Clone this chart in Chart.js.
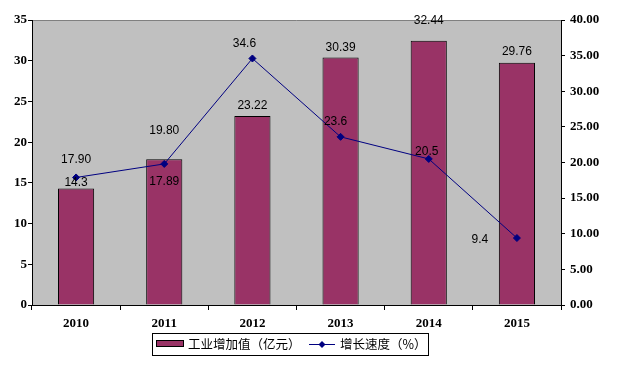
<!DOCTYPE html>
<html>
<head>
<meta charset="utf-8">
<script src="https://cdn.jsdelivr.net/npm/chart.js@4"></script>
<style>
  body { margin: 0; background: #fff; }
  #wrap { width: 618px; height: 369px; }
</style>
</head>
<body>
<div id="wrap"><canvas id="myChart" width="618" height="369"></canvas></div>
<script>
const years = ["2010", "2011", "2012", "2013", "2014", "2015"];
const addedValue = [14.3, 17.89, 23.22, 30.39, 32.44, 29.76];
const addedLabels = ["14.3", "17.89", "23.22", "30.39", "32.44", "29.76"];
const growthRate = [17.9, 19.8, 34.6, 23.6, 20.5, 9.4];
const growthLabels = ["17.90", "19.80", "34.6", "23.6", "20.5", "9.4"];

// label nudges (dx, dy) from the top of each mark
const barLabelShift = [[0, -6], [0, 22], [0, -10], [0, -10], [0, -20], [0, -11]];
const lineLabelShift = [[0, -18], [0, -33], [-8, -15], [-5, -15], [-2, -7], [-37, 2]];

const tickFont = { family: "Liberation Serif", size: 13, weight: "bold" };

const plotBg = {
  id: "plotBg",
  beforeDraw(chart) {
    const { ctx, chartArea: a } = chart;
    ctx.save();
    ctx.fillStyle = "#C0C0C0";
    ctx.fillRect(a.left, a.top, a.right - a.left, a.bottom - a.top);
    ctx.strokeStyle = "#808080";
    ctx.lineWidth = 1;
    ctx.beginPath();
    ctx.moveTo(a.left, Math.round(a.top) + 0.5);
    ctx.lineTo(a.right, Math.round(a.top) + 0.5);
    ctx.stroke();
    ctx.restore();
  }
};

const valueLabels = {
  id: "valueLabels",
  afterDatasetsDraw(chart) {
    const ctx = chart.ctx;
    ctx.save();
    ctx.font = "12px 'Liberation Sans', Arial, sans-serif";
    ctx.fillStyle = "#000";
    ctx.textAlign = "center";
    ctx.textBaseline = "middle";
    chart.getDatasetMeta(1).data.forEach((el, i) => {
      ctx.fillText(addedLabels[i], el.x + barLabelShift[i][0], el.y + barLabelShift[i][1]);
    });
    chart.getDatasetMeta(0).data.forEach((el, i) => {
      ctx.fillText(growthLabels[i], el.x + lineLabelShift[i][0], el.y + lineLabelShift[i][1]);
    });
    ctx.restore();
  }
};

const boxLegend = {
  id: "boxLegend",
  afterDraw(chart) {
    const ctx = chart.ctx;
    ctx.save();
    ctx.strokeStyle = "#000";
    ctx.lineWidth = 1;
    ctx.strokeRect(152.5, 333.5, 276, 22);
    // bar swatch
    ctx.fillStyle = "#993366";
    ctx.fillRect(156.5, 340.5, 27, 6);
    ctx.strokeRect(156.5, 340.5, 27, 6);
    // line swatch
    ctx.strokeStyle = "#000080";
    ctx.beginPath();
    ctx.moveTo(309, 344.5);
    ctx.lineTo(335, 344.5);
    ctx.stroke();
    ctx.fillStyle = "#000080";
    ctx.beginPath();
    ctx.moveTo(322, 341);
    ctx.lineTo(325.5, 344.5);
    ctx.lineTo(322, 348);
    ctx.lineTo(318.5, 344.5);
    ctx.closePath();
    ctx.fill();
    ctx.fillStyle = "#000";
    ctx.font = "12.5px 'Noto Sans CJK SC', sans-serif";
    ctx.textBaseline = "middle";
    ctx.textAlign = "left";
    ctx.fillText("工业增加值（亿元）", 188, 344.5);
    ctx.fillText("增长速度（%）", 340, 344.5);
    ctx.restore();
  }
};

const ctx = document.getElementById("myChart");

const data = {
  labels: years,
  datasets: [
    {
      type: "line",
      label: "增长速度（%）",
      data: growthRate,
      yAxisID: "y1",
      borderColor: "#000080",
      borderWidth: 1,
      backgroundColor: "#000080",
      pointStyle: "rectRot",
      pointRadius: 3.5,
      pointBorderWidth: 1,
      tension: 0,
      order: 0
    },
    {
      type: "bar",
      label: "工业增加值（亿元）",
      data: addedValue,
      yAxisID: "y",
      backgroundColor: "#993366",
      borderColor: "#000",
      borderWidth: 1,
      categoryPercentage: 1,
      barPercentage: 0.41,
      order: 1
    }
  ]
};

const config = {
  data: data,
  options: {
    responsive: false,
    animation: false,
    layout: { padding: { top: 20, bottom: 36, left: 0, right: 0 } },
    plugins: {
      legend: { display: false },
      tooltip: { enabled: false }
    },
    scales: {
      x: {
        grid: { offset: true, drawOnChartArea: false, tickLength: 5, color: "#000" },
        border: { color: "#000" },
        ticks: { color: "#000", font: tickFont, padding: 6, maxRotation: 0 },
        afterFit(scale) { scale.height = 28; }
      },
      y: {
        position: "left",
        min: 0,
        max: 35,
        grid: { drawOnChartArea: false, tickLength: 4, color: "#000" },
        border: { color: "#000" },
        ticks: { stepSize: 5, color: "#000", font: tickFont, padding: 1 },
        afterFit(scale) { scale.width = 32; }
      },
      y1: {
        position: "right",
        min: 0,
        max: 40,
        grid: { drawOnChartArea: false, tickLength: 4, color: "#000" },
        border: { color: "#000" },
        ticks: {
          stepSize: 5,
          color: "#000",
          font: tickFont,
          padding: 5,
          callback: (v) => Number(v).toFixed(2)
        },
        afterFit(scale) { scale.width = 57; }
      }
    }
  },
  plugins: [plotBg, valueLabels, boxLegend]
};

new Chart(ctx, config);
</script>
</body>
</html>
